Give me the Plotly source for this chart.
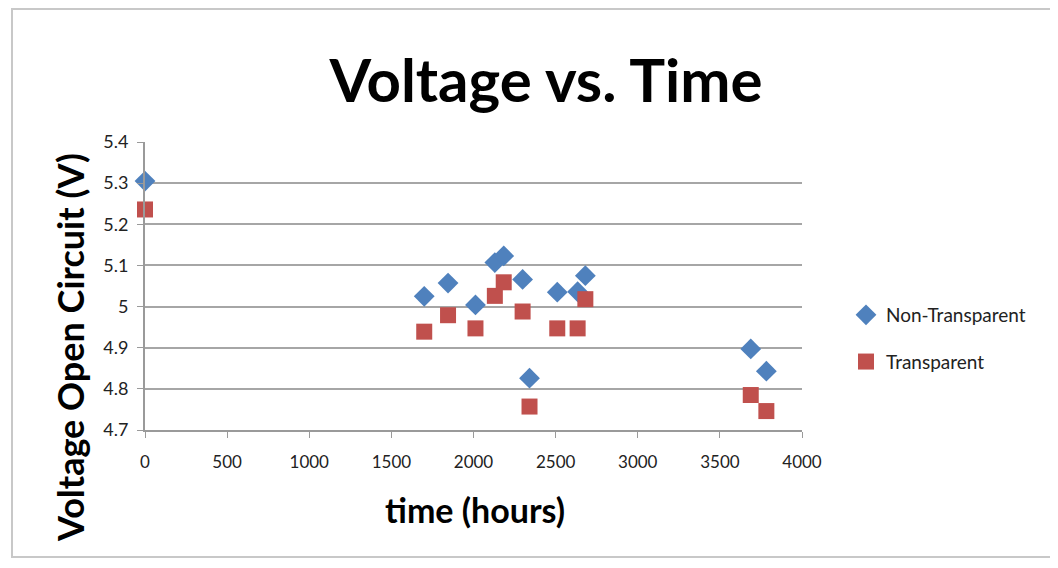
import plotly.graph_objects as go

hours = [0, 1700, 1845, 2012, 2130, 2184, 2299, 2341, 2510, 2634, 2681, 3688, 3783]
non_transparent = [5.305, 5.025, 5.057, 5.004, 5.107, 5.123, 5.066, 4.826, 5.035, 5.036, 5.075, 4.897, 4.843]
transparent = [5.236, 4.939, 4.979, 4.947, 5.026, 5.059, 4.988, 4.757, 4.947, 4.947, 5.018, 4.785, 4.746]

y_ticks = [4.7, 4.8, 4.9, 5.0, 5.1, 5.2, 5.3, 5.4]
y_tick_labels = ["4.7", "4.8", "4.9", "5", "5.1", "5.2", "5.3", "5.4"]
x_ticks = [0, 500, 1000, 1500, 2000, 2500, 3000, 3500, 4000]

FONT = "Lato"
W, H = 1050, 560
L, R, T, B = 137, 256, 134, 138
PW, PH = W - L - R, H - T - B


def px_x(v):
    return (v - L) / PW


def px_y(v):
    return (H - B - v) / PH


fig = go.Figure()
fig.add_trace(go.Scatter(
    x=hours, y=non_transparent, mode="markers", name="Non-Transparent",
    legendgroup="a",
    marker=dict(symbol="diamond", size=16, color="#4F81BD"),
    cliponaxis=False,
))
fig.add_trace(go.Scatter(
    x=hours, y=transparent, mode="markers", name="Transparent",
    legendgroup="b",
    marker=dict(symbol="square", size=16, color="#C0504D"),
    cliponaxis=False,
))

fig.update_layout(
    width=W, height=H,
    margin=dict(l=L, r=R, t=T, b=B),
    paper_bgcolor="white", plot_bgcolor="white",
    font=dict(family=FONT, color="#222222"),
    title=dict(text="<b>Voltage vs. Time</b>", x=538 / W, xanchor="center",
               y=1 - 73 / H, yanchor="middle", yref="container",
               font=dict(family=FONT, size=60, color="black")),
    legend=dict(x=px_x(838), y=px_y(288), xanchor="left", yanchor="top",
                font=dict(family=FONT, size=19, color="#222222"),
                traceorder="grouped", tracegroupgap=19,
                bgcolor="rgba(0,0,0,0)", itemwidth=30),
    showlegend=True,
    xaxis=dict(
        range=[0, 4000], tickvals=x_ticks, showgrid=False, zeroline=False,
        showline=True, linecolor="#9a9a9a", linewidth=2,
        ticks="outside", ticklen=6, tickcolor="#9a9a9a", tickwidth=1,
        ticklabelstandoff=10,
        tickfont=dict(family=FONT, size=17, color="#222222"),
    ),
    yaxis=dict(
        range=[4.7, 5.4], tickvals=y_ticks, ticktext=y_tick_labels,
        showgrid=True, gridcolor="#a6a6a6", gridwidth=2, zeroline=False,
        showline=True, linecolor="#9a9a9a", linewidth=2,
        ticks="outside", ticklen=6, tickcolor="#9a9a9a", tickwidth=1,
        ticklabelstandoff=5,
        tickfont=dict(family=FONT, size=18, color="#222222"),
    ),
    annotations=[
        dict(text="<b>time (hours)</b>", xref="paper", yref="paper",
             x=px_x(467), y=px_y(501), xanchor="center", yanchor="middle",
             showarrow=False, font=dict(family=FONT, size=34, color="black")),
        dict(text="<b>Voltage Open Circuit (V)</b>", xref="paper", yref="paper",
             x=px_x(62), y=px_y(340), xanchor="center", yanchor="middle",
             textangle=-90, showarrow=False,
             font=dict(family=FONT, size=36, color="black")),
    ],
    shapes=[dict(type="rect", xref="paper", yref="paper",
                 x0=px_x(4), x1=px_x(1060),
                 y0=px_y(549), y1=px_y(1),
                 line=dict(color="#c8c8c8", width=2), layer="below")],
)

fig.write_html("out.html")
